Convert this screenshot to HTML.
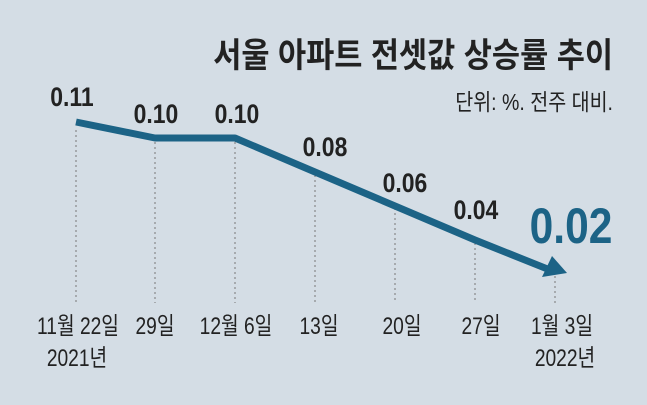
<!DOCTYPE html>
<html><head><meta charset="utf-8"><style>
html,body{margin:0;padding:0;background:#d4dde5;}
svg{display:block}
text{font-family:"Liberation Sans","Noto Sans CJK KR",sans-serif;fill:#222;}
</style></head><body>
<svg width="647" height="405" viewBox="0 0 647 405">
<rect width="647" height="405" fill="#d4dde5"/>
<text x="613" y="67" text-anchor="end" font-size="34" font-weight="bold" transform="translate(613 0) scale(0.9 1) translate(-613 0)">서울 아파트 전셋값 상승률 추이</text>
<text x="613" y="110" text-anchor="end" font-size="23" transform="translate(613 0) scale(0.85 1) translate(-613 0)">단위: %. 전주 대비.</text>
<g stroke="#777" stroke-width="1" stroke-dasharray="2,3">
<line x1="76" y1="130" x2="76" y2="303"/>
<line x1="155" y1="142" x2="155" y2="303"/>
<line x1="235" y1="142" x2="235" y2="303"/>
<line x1="315" y1="175" x2="315" y2="303"/>
<line x1="395" y1="208" x2="395" y2="303"/>
<line x1="475" y1="243" x2="475" y2="303"/>
<line x1="555" y1="276" x2="555" y2="303"/>
</g>
<polyline points="76,122 155,138 235,138 315,172 395,206 475,240 550,270" fill="none" stroke="#1c6386" stroke-width="7" stroke-linejoin="round"/>
<polygon points="552,256 542,277 567,273" fill="#1c6386"/>
<g font-weight="bold" font-size="27" text-anchor="middle">
<text x="72" y="106" transform="translate(72 0) scale(0.85 1) translate(-72 0)">0.11</text>
<text x="156" y="123" transform="translate(156 0) scale(0.85 1) translate(-156 0)">0.10</text>
<text x="237" y="123" transform="translate(237 0) scale(0.85 1) translate(-237 0)">0.10</text>
<text x="325" y="156" transform="translate(325 0) scale(0.85 1) translate(-325 0)">0.08</text>
<text x="405" y="192" transform="translate(405 0) scale(0.85 1) translate(-405 0)">0.06</text>
<text x="476" y="219" transform="translate(476 0) scale(0.85 1) translate(-476 0)">0.04</text>
<text x="571" y="243" font-size="50" style="fill:#1c6386" transform="translate(571 0) scale(0.85 1) translate(-571 0)">0.02</text>
</g>
<g font-size="24" text-anchor="middle">
<text x="78" y="334" transform="translate(78 0) scale(0.8 1) translate(-78 0)">11월 22일</text>
<text x="155" y="334" transform="translate(155 0) scale(0.8 1) translate(-155 0)">29일</text>
<text x="236" y="334" transform="translate(236 0) scale(0.8 1) translate(-236 0)">12월 6일</text>
<text x="319" y="334" transform="translate(319 0) scale(0.8 1) translate(-319 0)">13일</text>
<text x="402" y="334" transform="translate(402 0) scale(0.8 1) translate(-402 0)">20일</text>
<text x="481" y="334" transform="translate(481 0) scale(0.8 1) translate(-481 0)">27일</text>
<text x="562" y="334" transform="translate(562 0) scale(0.8 1) translate(-562 0)">1월 3일</text>
<text x="77" y="366" transform="translate(77 0) scale(0.8 1) translate(-77 0)">2021년</text>
<text x="565" y="366" transform="translate(565 0) scale(0.8 1) translate(-565 0)">2022년</text>
</g>
</svg>
</body></html>
